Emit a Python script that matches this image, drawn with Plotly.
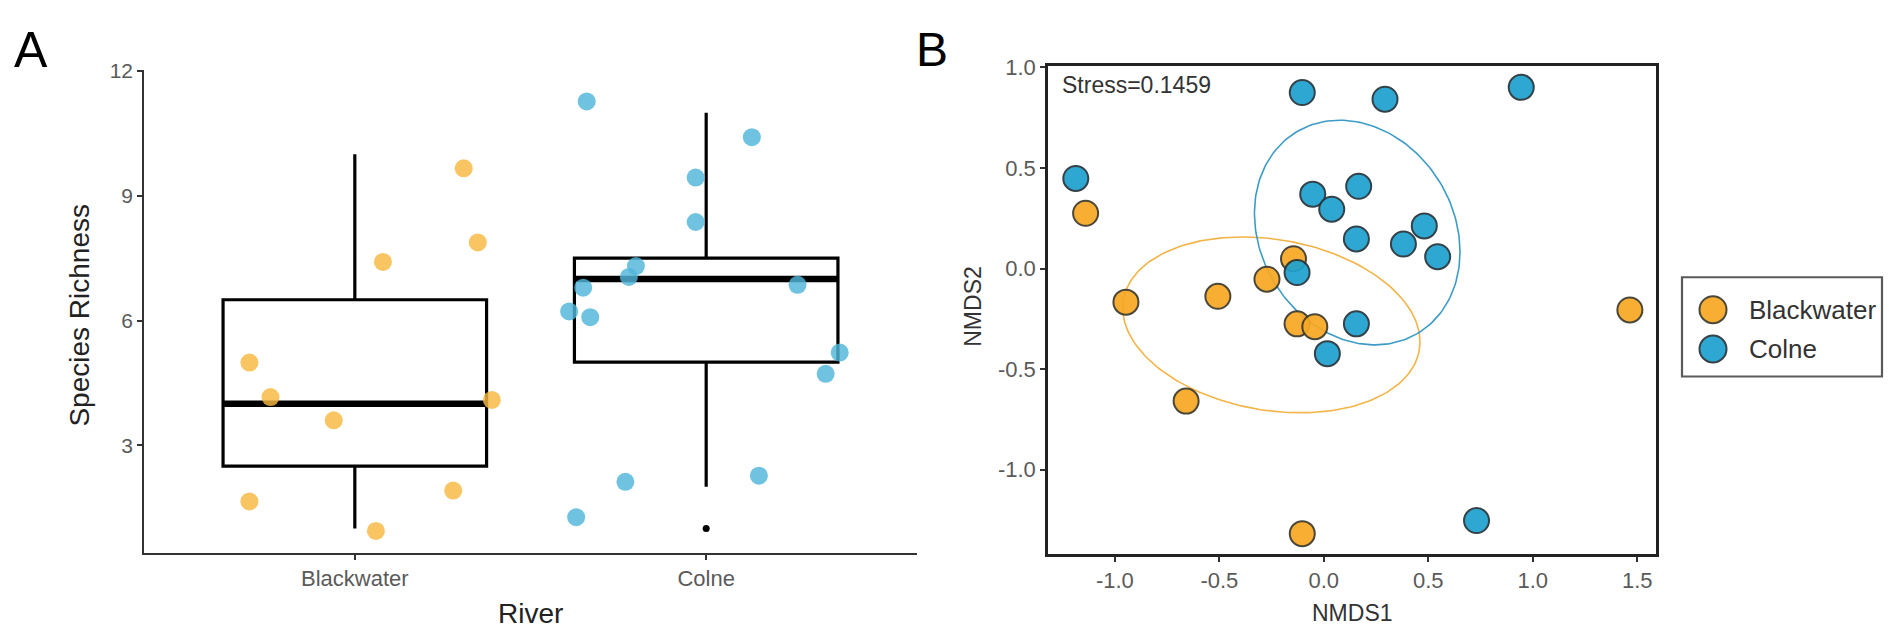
import numpy as np
import plotly.graph_objects as go

# ---------------- Panel A data ----------------
rivers = ["Blackwater", "Colne"]
river_pos = [1, 2]
box_q1 = [2.5, 5.0]
box_median = [4.0, 7.0]
box_q3 = [6.5, 7.5]
box_lower = [1.0, 2.0]
box_upper = [10.0, 11.0]
outlier_x = [2]
outlier_y = [1.0]

bw_jit_x = [1.31, 1.35, 1.08, 0.70, 0.76, 1.39, 0.94, 1.28, 0.70, 1.06]
bw_rich = [9.66, 7.88, 7.41, 4.99, 4.16, 4.09, 3.60, 1.91, 1.65, 0.94]
co_jit_x = [1.66, 2.13, 1.97, 1.97, 1.80, 1.78, 1.65, 2.26, 1.61, 1.67, 2.38, 2.34, 2.15, 1.77, 1.63]
co_rich = [11.27, 10.41, 9.44, 8.37, 7.31, 7.05, 6.79, 6.86, 6.22, 6.08, 5.23, 4.72, 2.27, 2.12, 1.27]

# ---------------- Panel B data ----------------
bw_nmds1 = [-1.14, -0.145, -0.272, -0.947, -0.507, -0.128, -0.043, 1.465, -0.659, -0.103]
bw_nmds2 = [0.275, 0.049, -0.053, -0.167, -0.138, -0.275, -0.289, -0.206, -0.659, -1.318]
co_nmds1 = [-0.103, 0.293, 0.945, -1.187, -0.053, 0.167, 0.038, 0.481, 0.156, 0.381, 0.545, -0.128, 0.156, 0.017, 0.731]
co_nmds2 = [0.875, 0.842, 0.901, 0.448, 0.370, 0.409, 0.295, 0.212, 0.147, 0.122, 0.059, -0.020, -0.275, -0.423, -1.253]

# ellipse parameters (centre and covariance-like shape)
bw_ell_center = [-0.251, -0.280]
bw_ell_cov = [[0.506, -0.060], [-0.060, 0.191]]
co_ell_center = [0.160, 0.179]
co_ell_cov = [[0.242, -0.047], [-0.047, 0.312]]

stress_text = "Stress=0.1459"

x_ticks_b = [-1.0, -0.5, 0.0, 0.5, 1.0, 1.5]
x_ticktext_b = ["-1.0", "-0.5", "0.0", "0.5", "1.0", "1.5"]
y_ticks_b = [-1.0, -0.5, 0.0, 0.5, 1.0]
y_ticktext_b = ["-1.0", "-0.5", "0.0", "0.5", "1.0"]

legend_labels = ["Blackwater", "Colne"]
legend_index = [0, 1]

# ---------------- styling ----------------
W, H = 1889, 630
FONT = "Liberation Sans, Arial, Helvetica, sans-serif"
ORANGE_A = "#F7B840"
BLUE_A = "#4FB5D9"
ORANGE_B = "#F7A823"
BLUE_B = "#1FA2CF"
ORANGE_ELL = "#F3B447"
BLUE_ELL = "#3D9CC6"
OUTLINE_B = ["#3d3a2a", "#24343c"]
BOX_W = 0.75


def px(x):
    return x / W


def py(y):
    return 1 - y / H


def ellipse(center, cov, n=200):
    L = np.linalg.cholesky(np.array(cov))
    t = np.linspace(0, 2 * np.pi, n)
    pts = np.array(center)[:, None] + L @ np.vstack([np.cos(t), np.sin(t)])
    return pts[0], pts[1]


fig = go.Figure()

# Boxes (panel A)
for i in range(2):
    fig.add_trace(go.Box(
        x=[river_pos[i]], q1=[box_q1[i]], median=[box_median[i]], q3=[box_q3[i]],
        lowerfence=[box_lower[i]], upperfence=[box_upper[i]],
        width=BOX_W, whiskerwidth=0, fillcolor="white",
        line=dict(color="black", width=3.2), boxpoints=False,
        showlegend=False, hoverinfo="skip", xaxis="x", yaxis="y"))
    fig.add_trace(go.Scatter(
        x=[river_pos[i] - BOX_W / 2, river_pos[i] + BOX_W / 2],
        y=[box_median[i], box_median[i]], mode="lines",
        line=dict(color="black", width=6.5), showlegend=False,
        hoverinfo="skip", xaxis="x", yaxis="y"))

fig.add_trace(go.Scatter(x=outlier_x, y=outlier_y, mode="markers",
                         marker=dict(color="black", size=7), showlegend=False,
                         xaxis="x", yaxis="y"))

fig.add_trace(go.Scatter(x=bw_jit_x, y=bw_rich, mode="markers",
                         marker=dict(color=ORANGE_A, size=18, opacity=0.82),
                         showlegend=False, xaxis="x", yaxis="y"))
fig.add_trace(go.Scatter(x=co_jit_x, y=co_rich, mode="markers",
                         marker=dict(color=BLUE_A, size=18, opacity=0.82),
                         showlegend=False, xaxis="x", yaxis="y"))

# Panel B ellipses
ex, ey = ellipse(bw_ell_center, bw_ell_cov)
fig.add_trace(go.Scatter(x=ex, y=ey, mode="lines", line=dict(color=ORANGE_ELL, width=1.6),
                         showlegend=False, hoverinfo="skip", xaxis="x2", yaxis="y2"))
ex, ey = ellipse(co_ell_center, co_ell_cov)
fig.add_trace(go.Scatter(x=ex, y=ey, mode="lines", line=dict(color=BLUE_ELL, width=1.6),
                         showlegend=False, hoverinfo="skip", xaxis="x2", yaxis="y2"))

# Panel B points
fig.add_trace(go.Scatter(x=bw_nmds1, y=bw_nmds2, mode="markers", name="Blackwater",
                         marker=dict(color=ORANGE_B, size=25, opacity=0.93,
                                     line=dict(color=OUTLINE_B[0], width=2)),
                         showlegend=False, xaxis="x2", yaxis="y2"))
fig.add_trace(go.Scatter(x=co_nmds1, y=co_nmds2, mode="markers", name="Colne",
                         marker=dict(color=BLUE_B, size=25, opacity=0.93,
                                     line=dict(color=OUTLINE_B[1], width=2)),
                         showlegend=False, xaxis="x2", yaxis="y2"))

# Legend keys (drawn on a hidden helper axis so the keys can be full size)
fig.add_trace(go.Scatter(x=[0, 0], y=legend_index, mode="markers",
                         marker=dict(color=[ORANGE_B, BLUE_B], size=27, opacity=0.93,
                                     line=dict(color=OUTLINE_B, width=2)),
                         showlegend=False, hoverinfo="skip", xaxis="x3", yaxis="y3"))

axis_common = dict(showgrid=False, zeroline=False, showline=True, ticks="outside",
                   fixedrange=True)
hidden = dict(visible=False, showgrid=False, zeroline=False, fixedrange=True)

LEG_L, LEG_R, LEG_T, LEG_B = 1682, 1882, 271, 372
KEY_X, KEY_Y0, KEY_DY = 1713, 304, 40

fig.update_layout(
    width=W, height=H, margin=dict(l=0, r=0, t=0, b=0),
    paper_bgcolor="white", plot_bgcolor="white",
    font=dict(family=FONT, color="#222"),
    showlegend=False,
    xaxis=dict(domain=[px(144), px(917)], range=[0.4, 2.6], tickvals=river_pos,
               ticktext=rivers, linecolor="#333", linewidth=1.6, tickcolor="#333",
               ticklen=5, tickwidth=1.5, tickfont=dict(size=22, color="#5a5a5a"),
               anchor="y", **axis_common),
    yaxis=dict(domain=[py(551.6), py(60.3)], range=[0.41, 12.02], tickvals=[3, 6, 9, 12],
               linecolor="#333", linewidth=1.6, tickcolor="#333", ticklen=5, tickwidth=1.5,
               tickfont=dict(size=21, color="#5a5a5a"), anchor="x", **axis_common),
    xaxis2=dict(domain=[px(1048), px(1656)], range=[-1.32, 1.59], tickvals=x_ticks_b,
                ticktext=x_ticktext_b, linecolor="#222", linewidth=2.5, mirror=True,
                tickcolor="#333", ticklen=5, tickwidth=1.5,
                tickfont=dict(size=22, color="#5a5a5a"), anchor="y2", **axis_common),
    yaxis2=dict(domain=[py(552.4), py(56.2)], range=[-1.418, 1.006], tickvals=y_ticks_b,
                ticktext=y_ticktext_b, linecolor="#222", linewidth=2.5, mirror=True,
                tickcolor="#333", ticklen=5, tickwidth=1.5,
                tickfont=dict(size=22, color="#5a5a5a"), anchor="x2", **axis_common),
    xaxis3=dict(domain=[px(LEG_L), px(LEG_R)],
                range=[LEG_L - KEY_X, LEG_R - KEY_X], anchor="y3", **hidden),
    yaxis3=dict(domain=[py(LEG_B), py(LEG_T)],
                range=[(LEG_B - KEY_Y0) / KEY_DY, (LEG_T - KEY_Y0) / KEY_DY],
                anchor="x3", **hidden),
)

fig.add_shape(type="rect", xref="paper", yref="paper",
              x0=px(LEG_L), x1=px(LEG_R), y0=py(LEG_B), y1=py(LEG_T),
              line=dict(color="#5a5a5a", width=2.2), fillcolor="rgba(0,0,0,0)", layer="below")

for lab, idx in zip(legend_labels, legend_index):
    fig.add_annotation(text=lab, x=34, y=idx, xref="x3", yref="y3", xanchor="left",
                       yanchor="middle", showarrow=False, font=dict(size=26, color="#333"))

annotations = [
    dict(text="A", x=px(31), y=py(40), font=dict(size=50, color="black")),
    dict(text="B", x=px(932), y=py(39), font=dict(size=48, color="black")),
    dict(text="Species Richness", x=px(80), y=py(310), textangle=-90,
         font=dict(size=28, color="#222")),
    dict(text="River", x=px(530), y=py(613), font=dict(size=28, color="#222")),
    dict(text="NMDS1", x=px(1352), y=py(613), font=dict(size=23, color="#333")),
    dict(text="NMDS2", x=px(973), y=py(301), textangle=-90, font=dict(size=23, color="#333")),
    dict(text=stress_text, x=px(1060), y=py(75), xanchor="left",
         font=dict(size=23, color="#333")),
]
for a in annotations:
    a.setdefault("xanchor", "center")
    a.update(xref="paper", yref="paper", yanchor="middle", showarrow=False)
    fig.add_annotation(**a)

fig.write_html("out.html")
